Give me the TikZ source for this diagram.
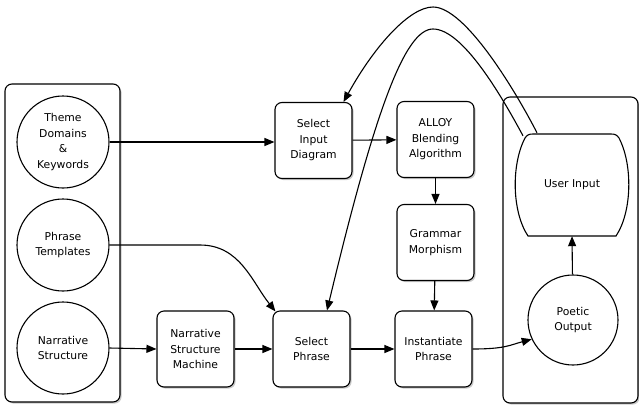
\documentclass[tikz,border=0pt]{standalone}
\usepackage{fontspec}
\setmainfont{DejaVu Sans}
\usetikzlibrary{arrows.meta,shadows,calc}
\begin{document}
\begin{tikzpicture}[x=1pt,y=-1pt,
  every node/.style={font=\fontsize{10.8}{15.5}\selectfont, align=center},
  shad/.style={drop shadow={shadow xshift=1.6pt, shadow yshift=-1.6pt, opacity=0.3, fill=black!70}},
  proc/.style={draw, line width=1.1pt, rounded corners=7pt, fill=white, minimum width=77pt, minimum height=76pt, inner sep=0pt, shad},
  src/.style={draw, circle, line width=1.1pt, minimum size=92pt, inner sep=0pt, fill=white},
  panel/.style={draw, line width=1.1pt, rounded corners=7pt, fill=white, inner sep=0pt, shad},
  conn/.style={line width=1.1pt, -{Triangle[length=10pt,width=8pt]}},
  plain/.style={line width=1.1pt}
]
\useasboundingbox (0,0) rectangle (639,405);
% panels
\node[panel, minimum width=115pt, minimum height=318pt] (lp) at (62.5,243) {};
\node[panel, minimum width=135pt, minimum height=306pt] (rp) at (570.5,250) {};
% sources
\node[src] (th) at (63,142) {Theme\\Domains\\\&\\Keywords};
\node[src] (pt) at (63,245) {Phrase\\Templates};
\node[src] (ns) at (63,348) {Narrative\\Structure};
% process boxes
\node[proc] (sid) at (313.5,140.5) {Select\\Input\\Diagram};
\node[proc] (alloy) at (435.5,139.5) {ALLOY\\Blending\\Algorithm};
\node[proc] (gm) at (435.5,242.5) {Grammar\\Morphism};
\node[proc] (nsm) at (195.5,349) {Narrative\\Structure\\Machine};
\node[proc] (sp) at (311.5,349) {Select\\Phrase};
\node[proc] (ip) at (433.5,349) {Instantiate\\Phrase};
% user input
\draw[plain, fill=white] (533,134) -- (611,134) .. controls (615,134) and (617,135) .. (619,138) .. controls (633,165) and (632,212) .. (616,236) -- (528,236) .. controls (512,212) and (511,165) .. (525,138) .. controls (527,135) and (529,134) .. (533,134) -- cycle;
\node[minimum width=116pt, minimum height=102pt, inner sep=0pt] (ui) at (572,185) {User Input};
\node[src, minimum size=90pt] (po) at (573,320) {Poetic\\Output};
% coordinates
\coordinate (uiA) at ($(ui.north)+(-35,-1)$);
\coordinate (uiB) at ($(ui.north)+(-49,2)$);
\coordinate (sidt) at ($(sid.north)+(30,0)$);
\coordinate (spt) at ($(sp.north)+(15.5,0)$);
\coordinate (spc) at ($(sp.north west)+(3,1)$);
% connectors
\draw[conn] (th.east) -- (th.east -| sid.west);
\draw[conn] (pt.east) -- (200,245) .. controls (240,245) and (252,282) .. (spc);
\draw[conn] (ns.east) -- (nsm.west);
\draw[conn] (nsm) -- (sp);
\draw[conn] (sp) -- (ip);
\draw[conn] (sid) -- (alloy);
\draw[conn] (alloy) -- (gm);
\draw[conn] (gm) -- (ip);
\draw[conn] (po) -- (ui.south);
\draw[conn] (ip.east) .. controls (505,349) and (510,345) .. (po.205);
\draw[conn] (uiA) .. controls (515,90) and (465,7) .. (433,7) .. controls (410,7) and (375,45) .. (sidt);
\draw[conn] (uiB) .. controls (500,93) and (462,29) .. (433,29) .. controls (405,29) and (375,110) .. (spt);
\end{tikzpicture}
\end{document}
